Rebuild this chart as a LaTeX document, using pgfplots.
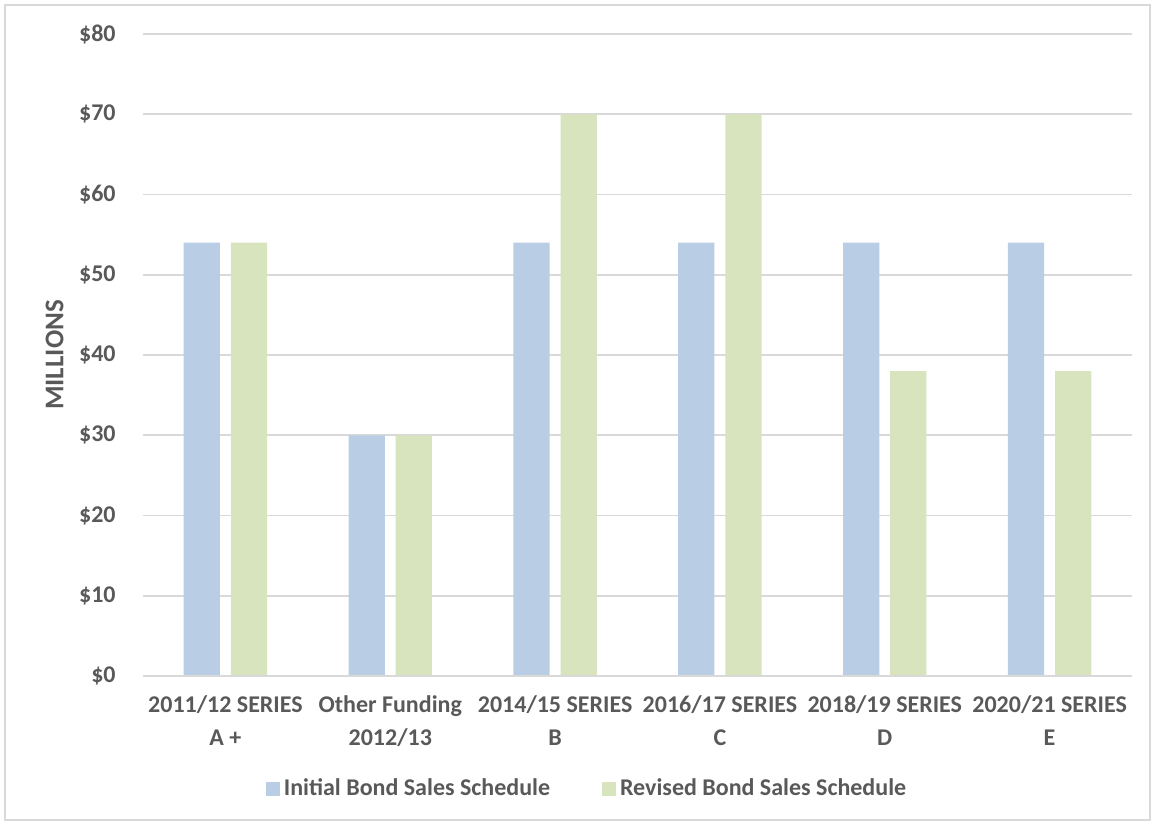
\documentclass[border=0pt]{standalone}
\usepackage{pgfplots}
\pgfplotsset{compat=1.18}
\usepackage{fontspec}
\setmainfont{Carlito}
\definecolor{txt}{HTML}{595959}
\definecolor{gridc}{HTML}{D9D9D9}
\definecolor{blueb}{HTML}{B9CDE5}
\definecolor{greenb}{HTML}{D7E4BD}
\begin{document}
\begin{tikzpicture}
\useasboundingbox (0,0) rectangle (577pt,412.5pt);
\draw[gridc, line width=0.6pt] (2.5pt,2.5pt) rectangle (575pt,410pt);
\begin{axis}[
  at={(71.5pt,74.5pt)}, anchor=south west,
  scale only axis, width=494.5pt, height=321pt,
  xmin=-0.5, xmax=5.5, ymin=0, ymax=80,
  axis line style={draw=none},
  axis x line*=bottom,
  tick style={draw=none},
  ymajorgrids, grid style={gridc, line width=0.8pt},
  ytick={0,10,...,80},
  yticklabels={\$0,\$10,\$20,\$30,\$40,\$50,\$60,\$70,\$80},
  xtick={0,1,2,3,4,5},
  xticklabels={2011/12 SERIES\\A +, Other Funding\\2012/13, 2014/15 SERIES\\B, 2016/17 SERIES\\C, 2018/19 SERIES\\D, 2020/21 SERIES\\E},
  font=\fontsize{12}{16.5}\selectfont\bfseries\color{txt},
  yticklabel style={inner sep=0pt, xshift=-13.5pt},
  xticklabel style={align=center, inner sep=0pt, anchor=north, yshift=-9.5pt},
  ylabel={MILLIONS},
  ylabel style={at={(axis description cs:-0.0895,0.5)}, anchor=center, rotate=0, font=\fontsize{13.5}{15}\selectfont\bfseries\color{txt}},
  bar width=0.22,
  legend style={at={(0.45,-0.176)}, anchor=center, draw=none, fill=none,
    legend columns=2, font=\fontsize{12}{14}\selectfont\bfseries\color{txt},
    /tikz/every even column/.append style={column sep=24pt},
    inner sep=0pt},
  legend image code/.code={\fill[#1] (0pt,-3.5pt) rectangle (7pt,3.5pt);},
]
\addplot[ybar, bar shift=-0.143, fill=blueb, draw=none] coordinates {(0,54) (1,30) (2,54) (3,54) (4,54) (5,54)};
\addlegendentry{Initial Bond Sales Schedule}
\addplot[ybar, bar shift=0.143, fill=greenb, draw=none] coordinates {(0,54) (1,30) (2,70) (3,70) (4,38) (5,38)};
\addlegendentry{Revised Bond Sales Schedule}
\draw[gridc, line width=1pt] (axis cs:-0.5,0) -- (axis cs:5.5,0);
\end{axis}
\end{tikzpicture}
\end{document}
